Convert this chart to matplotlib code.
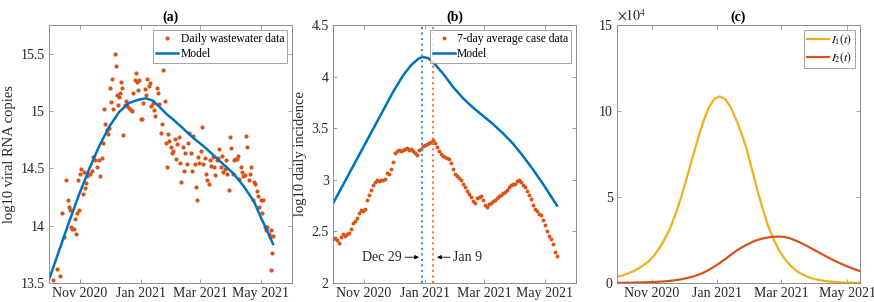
import numpy as np
import matplotlib
matplotlib.use("Agg")
import matplotlib.pyplot as plt
import matplotlib.dates as mdates
from matplotlib.ticker import FuncFormatter

plt.rcParams['font.family'] = ['Liberation Serif', 'DejaVu Serif']
plt.rcParams['mathtext.fontset'] = 'stix'

BLUE = '#0072BD'
ORANGE = '#D95319'
YELLOW = '#EDB120'
EDGE = '#8c8c8c'
TXT = '#262626'

# ---- panel (a): wastewater data, days after 2020-10-01 ----
ww_days = [4, 8, 11, 13, 15, 17, 19, 20, 21, 22, 23, 25, 26, 27, 28, 29, 30, 31, 32, 34,
           35, 36, 37, 38, 39, 41, 43, 44, 46, 48, 50, 51, 53, 54, 55, 56, 58, 59, 60, 61,
           62, 63, 64, 66, 67, 68, 69, 70, 71, 72, 73, 74, 76, 77, 78, 80, 82, 83, 84, 86,
           87, 88, 89, 90, 92, 93, 94, 96, 97, 98, 100, 101, 102, 104, 105, 106, 108, 109, 110, 112,
           113, 114, 116, 117, 118, 119, 120, 122, 123, 124, 126, 127, 128, 130, 131, 132, 134, 135, 136, 138,
           139, 140, 142, 143, 144, 146, 147, 148, 149, 150, 152, 153, 154, 156, 157, 158, 160, 161, 162, 164,
           165, 166, 168, 169, 170, 172, 173, 174, 176, 177, 178, 180, 181, 182, 184, 185, 186, 188, 189, 190,
           192, 193, 194, 196, 197, 198, 200, 201, 202, 204, 205, 206, 208, 209, 210, 212, 213, 214, 216, 217,
           218, 220, 221, 222, 222, 223, 224]
ww_vals = [13.53, 13.62, 13.56, 14.11, 13.90, 14.40, 14.22, 14.16, 14.14, 13.99, 13.97, 13.97, 14.06, 13.93, 14.11, 14.40, 14.14, 14.45, 14.49, 14.28,
           14.47, 14.33, 14.37, 14.43, 14.45, 14.45, 14.48, 14.60, 14.57, 14.51, 14.57, 14.43, 14.59, 14.72, 15.02, 14.89, 14.83, 14.80, 14.85, 15.20,
           15.08, 15.28, 15.02, 15.50, 15.39, 15.14, 15.05, 15.12, 15.16, 15.25, 15.20, 14.79, 15.05, 15.09, 15.04, 15.03, 15.01, 15.00, 15.16, 15.27,
           15.33, 15.25, 15.18, 15.27, 14.93, 14.93, 15.07, 15.19, 15.14, 15.28, 15.22, 15.24, 15.04, 15.07, 15.01, 14.96, 15.20, 15.16, 15.06, 14.81,
           14.89, 15.36, 15.09, 14.72, 14.51, 14.80, 14.74, 14.69, 14.63, 14.65, 14.76, 14.58, 14.71, 14.77, 14.55, 14.38, 14.69, 14.48, 14.63, 14.54,
           14.72, 14.81, 14.63, 14.48, 14.78, 14.54, 14.34, 14.22, 14.60, 14.55, 14.65, 14.86, 14.54, 14.59, 14.45, 14.40, 14.36, 14.57, 14.52, 14.60,
           14.51, 14.44, 14.57, 14.59, 14.67, 14.51, 14.61, 14.47, 14.49, 14.57, 14.45, 14.31, 14.77, 14.68, 14.45, 14.57, 14.58, 14.58, 14.61, 14.41,
           14.51, 14.47, 14.43, 14.44, 14.78, 14.69, 14.40, 14.45, 14.51, 14.22, 14.38, 14.36, 14.30, 14.26, 14.16, 14.22, 14.11, 14.22, 13.99, 13.96,
           13.99, 13.93, 13.90, 13.96, 13.61, 13.76, 13.91]

ww_model_days = [0, 10, 20, 30, 40, 50, 60, 70, 80, 90, 97, 104, 110, 118, 125, 135, 145, 155,
                 165, 175, 185, 195, 205, 212, 218, 224]
ww_model_vals = [13.53, 13.78, 14.03, 14.27, 14.49, 14.69, 14.86, 14.99, 15.07, 15.10, 15.11, 15.09,
                 15.04, 14.97, 14.92, 14.84, 14.76, 14.69, 14.61, 14.53, 14.45, 14.34, 14.21, 14.07,
                 13.96, 13.84]

# ---- panel (b): 7-day average cases (log10), every 2 days after 2020-10-01 ----
case_days = list(range(0, 225, 2))
case_vals = [2.43, 2.44, 2.42, 2.39, 2.45, 2.47, 2.46, 2.47, 2.48, 2.52, 2.58, 2.60, 2.63, 2.68, 2.71, 2.70,
             2.72, 2.80, 2.85, 2.90, 2.95, 2.98, 3.00, 2.99, 3.00, 3.00, 3.01, 3.07, 3.06, 3.10, 3.17, 3.26,
             3.28, 3.29, 3.28, 3.29, 3.30, 3.31, 3.29, 3.30, 3.28, 3.26, 3.24, 3.29, 3.30, 3.33, 3.34, 3.35,
             3.36, 3.37, 3.39, 3.36, 3.32, 3.28, 3.25, 3.23, 3.22, 3.21, 3.20, 3.16, 3.10, 3.06, 3.04, 3.02,
             3.00, 2.96, 2.93, 2.89, 2.86, 2.83, 2.79, 2.78, 2.82, 2.83, 2.84, 2.80, 2.76, 2.74, 2.77, 2.78,
             2.79, 2.80, 2.82, 2.84, 2.85, 2.87, 2.88, 2.90, 2.93, 2.95, 2.96, 2.96, 2.99, 3.00, 2.98, 2.95,
             2.93, 2.89, 2.85, 2.81, 2.76, 2.72, 2.70, 2.67, 2.66, 2.61, 2.56, 2.50, 2.46, 2.43, 2.38, 2.30,
             2.26]

inc_model_days = [0, 10, 20, 30, 40, 50, 60, 70, 78, 85, 89, 95, 100, 110, 120, 130, 140, 150,
                  160, 170, 180, 190, 200, 210, 220, 224]
inc_model_vals = [2.77, 2.95, 3.13, 3.31, 3.49, 3.67, 3.85, 4.01, 4.11, 4.17, 4.19, 4.18, 4.14,
                  4.03, 3.90, 3.79, 3.70, 3.62, 3.54, 3.45, 3.35, 3.23, 3.10, 2.96, 2.81, 2.75]

peak_model = '2020-12-29'
peak_data = '2021-01-09'

# ---- panel (c): infected compartments, every 5 days after 2020-09-30 ----
inf_days = list(range(0, 226, 5))
I1 = [3500, 4400, 5500, 6800, 8500, 10500, 13000, 16500, 21000, 26500, 33000, 41500, 51000, 62000,
      73000, 84000, 94000, 102000, 107000, 108500, 107000, 102500, 95500, 87500, 78000, 66000, 54000,
      43000, 33000, 25500, 19000, 14200, 10500, 7600, 5500, 4000, 2800, 2000, 1400, 1000, 700, 500,
      300, 200, 150, 100]
I2 = [100, 100, 200, 200, 300, 400, 500, 600, 800, 1000, 1300, 1700, 2200, 2900, 3700, 4700, 6000,
      7600, 9500, 11600, 13800, 16200, 18500, 20500, 22200, 23800, 25000, 25900, 26500, 26900, 27000,
      26800, 26000, 24800, 23400, 21800, 20100, 18400, 16700, 15000, 13400, 11900, 10500, 9200, 8000,
      6900]


def to_dates(start, days):
    return np.datetime64(start) + np.array(days).astype('timedelta64[D]')


fig = plt.figure(figsize=(8.74, 3.02), dpi=100)
W, H = 874, 302
ax_w, ax_h = 243 / W, 258 / H
bottom = (H - 283) / H
axa = fig.add_axes([49 / W, bottom, ax_w, ax_h])
axb = fig.add_axes([333 / W, bottom, ax_w, ax_h])
axc = fig.add_axes([617 / W, bottom, ax_w, ax_h])


def style(ax):
    for s in ax.spines.values():
        s.set_color(EDGE)
        s.set_linewidth(0.7)
    ax.tick_params(direction='in', length=3, width=0.6, color=EDGE, labelcolor=TXT,
                   labelsize=10, top=True, right=True, pad=3)
    ax.xaxis.set_major_locator(mdates.MonthLocator(bymonth=[11, 1, 3, 5]))
    ax.xaxis.set_major_formatter(mdates.DateFormatter('%b %Y'))
    ax.yaxis.set_major_formatter(FuncFormatter(lambda v, p: f'{v:g}'))


def legend(ax, **kw):
    lg = ax.legend(loc='upper right', fontsize=8.4, frameon=True, fancybox=False,
                   edgecolor=EDGE, borderpad=0.25, labelspacing=0.3, handlelength=1.9,
                   handletextpad=0.2, borderaxespad=0.4, **kw)
    lg.get_frame().set_linewidth(0.7)
    return lg


xlim_ab = (np.datetime64('2020-10-01'), np.datetime64('2021-06-01'))

# (a)
axa.plot(to_dates('2020-10-01', ww_days), ww_vals, 'o', color=ORANGE, ms=3, mew=0,
         label='Daily wastewater data')
axa.plot(to_dates('2020-10-01', ww_model_days), ww_model_vals, '-', color=BLUE, lw=1.8,
         label='Model')
axa.set_xlim(*xlim_ab)
axa.set_ylim(13.5, 15.75)
axa.set_yticks([13.5, 14, 14.5, 15, 15.5])
axa.set_ylabel('log10 viral RNA copies', fontsize=10.5, color=TXT, labelpad=3)
axa.set_title('(a)', fontsize=10, fontweight='bold', pad=3)
style(axa)
legend(axa)

# (b)
axb.plot(to_dates('2020-10-01', case_days), case_vals, 'o', color=ORANGE, ms=2.8, mew=0,
         label='7-day average case data')
axb.plot(to_dates('2020-10-01', inc_model_days), inc_model_vals, '-', color=BLUE, lw=1.8,
         label='Model')
axb.axvline(np.datetime64(peak_model), color='#2f9ae0', ls=':', lw=1.5)
axb.axvline(np.datetime64(peak_data), color='#ee7a4c', ls=':', lw=1.5)
arrow = dict(arrowstyle='-|>', color='black', lw=0.6, mutation_scale=6, shrinkA=0, shrinkB=0)
axb.annotate('Dec 29', xy=(np.datetime64('2020-12-26'), 2.25),
             xytext=(np.datetime64('2020-12-09'), 2.25), ha='right', va='center',
             fontsize=10, color=TXT, arrowprops=arrow)
axb.annotate('Jan 9', xy=(np.datetime64('2021-01-13'), 2.25),
             xytext=(np.datetime64('2021-01-29'), 2.25), ha='left', va='center',
             fontsize=10, color=TXT, arrowprops=arrow)
axb.set_xlim(*xlim_ab)
axb.set_ylim(2, 4.5)
axb.set_yticks([2, 2.5, 3, 3.5, 4, 4.5])
axb.set_ylabel('log10 daily incidence', fontsize=10.5, color=TXT, labelpad=3)
axb.set_title('(b)', fontsize=10, fontweight='bold', pad=3)
style(axb)
legend(axb)

# (c)
axc.plot(to_dates('2020-09-30', inf_days), I1, '-', color=YELLOW, lw=1.6, label='$I_1(t)$')
axc.plot(to_dates('2020-09-30', inf_days), I2, '-', color=ORANGE, lw=1.6, label='$I_2(t)$')
axc.set_xlim(np.datetime64('2020-09-30'), np.datetime64('2021-05-13'))
axc.set_ylim(0, 150000)
axc.set_yticks([0, 50000, 100000, 150000])
style(axc)
axc.yaxis.set_major_formatter(FuncFormatter(lambda v, p: f'{v / 1e4:g}'))
axc.text(0.0, 1.005, r'$\times10^4$', transform=axc.transAxes, fontsize=10, color=TXT,
         ha='left', va='bottom')
axc.set_title('(c)', fontsize=10, fontweight='bold', pad=3)
legend(axc)

fig.savefig('out.png', dpi=100)
